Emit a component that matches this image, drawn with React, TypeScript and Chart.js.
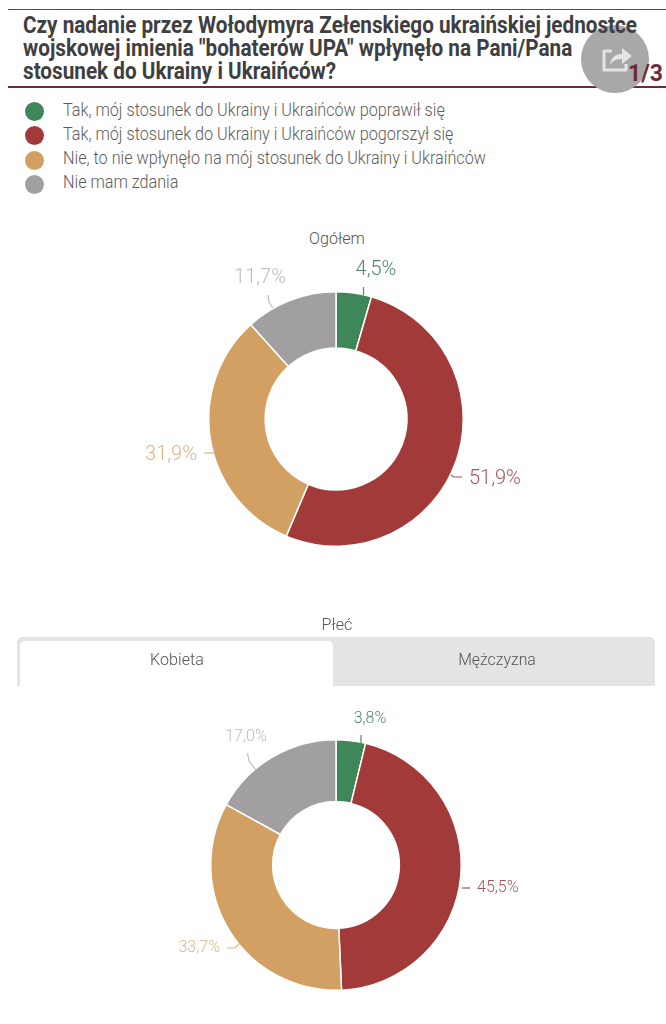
import React, { useEffect, useRef } from "react";
import { Chart, registerables } from "chart.js";

Chart.register(...registerables);

const titleLines = [
  "Czy nadanie przez Wołodymyra Zełenskiego ukraińskiej jednostce",
  'wojskowej imienia "bohaterów UPA" wpłynęło na Pani/Pana',
  "stosunek do Ukrainy i Ukraińców?",
];
const categories = [
  "Tak, mój stosunek do Ukrainy i Ukraińców poprawił się",
  "Tak, mój stosunek do Ukrainy i Ukraińców pogorszył się",
  "Nie, to nie wpłynęło na mój stosunek do Ukrainy i Ukraińców",
  "Nie mam zdania",
];
const overallValues = [4.5, 51.9, 31.9, 11.7];
const womenValues = [3.8, 45.5, 33.7, 17.0];
const tabNames = ["Kobieta", "Mężczyzna"];

const sliceColors = ["#3f8659", "#a33a3a", "#d2a063", "#a19f9f"];
const labelColors = ["#4a8a65", "#a2555c", "#d8b784", "#bdbcbc"];

const LIGHT = "Roboto, sans-serif";

type Callout = { tx: number; ty: number; align: CanvasTextAlign; line: number[][] };

const labelPlugin = {
  id: "callouts",
  afterDraw(chart: any, _a: any, opts: any) {
    const { ctx } = chart;
    const values = chart.data.datasets[0].data as number[];
    const off: number[] = opts.offset;
    ctx.save();
    ctx.textBaseline = "middle";
    opts.callouts.forEach((c: Callout, i: number) => {
      ctx.strokeStyle = labelColors[i];
      ctx.lineWidth = 1.2;
      ctx.beginPath();
      c.line.forEach((p, j) => {
        const x = p[0] - off[0];
        const y = p[1] - off[1];
        if (j === 0) ctx.moveTo(x, y);
        else ctx.lineTo(x, y);
      });
      ctx.stroke();
      const text = values[i].toFixed(1).replace(".", ",") + "%";
      ctx.fillStyle = labelColors[i];
      ctx.font = opts.font;
      ctx.textAlign = c.align;
      ctx.fillText(text, c.tx - off[0], c.ty - off[1]);
    });
    ctx.restore();
  },
};

function Donut(props: {
  values: number[];
  top: number;
  height: number;
  padY: number;
  cutout: string;
  font: string;
  callouts: Callout[];
}) {
  const ref = useRef<HTMLCanvasElement>(null);
  useEffect(() => {
    const chart = new Chart(ref.current!, {
      type: "doughnut",
      data: {
        labels: categories,
        datasets: [
          {
            data: props.values,
            backgroundColor: sliceColors,
            borderColor: "#ffffff",
            borderWidth: 1.5,
          },
        ],
      },
      options: {
        responsive: false,
        animation: false,
        cutout: props.cutout,
        layout: { padding: { left: 6, right: 0, top: props.padY, bottom: props.padY } },
        plugins: {
          legend: { display: false },
          tooltip: { enabled: false },
          callouts: { callouts: props.callouts, font: props.font, offset: [0, props.top] },
        } as any,
      },
      plugins: [labelPlugin],
    });
    return () => chart.destroy();
  }, []);
  return (
    <canvas
      ref={ref}
      width={666}
      height={props.height}
      style={{ position: "absolute", left: 0, top: props.top, width: 666, height: props.height }}
    />
  );
}

const overallCallouts: Callout[] = [
  { tx: 376, ty: 269.5, align: "center", line: [[363.5, 287], [363.5, 295]] },
  { tx: 469, ty: 478.5, align: "left", line: [[451, 475], [454, 477], [462, 477]] },
  { tx: 197, ty: 454.5, align: "right", line: [[204, 453], [214, 453]] },
  { tx: 260, ty: 277.5, align: "center", line: [[268, 295], [269, 302], [273, 308]] },
];
const womenCallouts: Callout[] = [
  { tx: 370, ty: 718.5, align: "center", line: [[361, 735], [361, 743]] },
  { tx: 477, ty: 887.5, align: "left", line: [[462, 888], [470, 888]] },
  { tx: 220, ty: 947.5, align: "right", line: [[227, 948], [235, 948], [240, 943]] },
  { tx: 246, ty: 736.5, align: "center", line: [[247.5, 753], [249, 761], [256, 770]] },
];

const abs = (s: React.CSSProperties): React.CSSProperties => ({ position: "absolute", whiteSpace: "nowrap", ...s });
const centered = (left: number, width: number, top: number, sx: number) =>
  abs({ left, width, top, textAlign: "center", fontSize: 17, lineHeight: "22px", transform: `scaleX(${sx})` });

export default function App() {
  return (
    <div style={abs({ left: 0, top: 0, width: 666, height: 1024, overflow: "hidden", background: "#fff", color: "#555", fontFamily: LIGHT, fontWeight: 300 })}>
      <div style={abs({ left: 8, right: 0, top: 9, height: 1, background: "#7a3a48" })} />
      <div style={abs({ left: 8, right: 0, top: 86, height: 1.5, background: "#6d2a3a" })} />
      <div style={abs({ left: 581, top: 25, width: 68, height: 68, borderRadius: "50%", background: "#a8a8a8" })} />
      {titleLines.map((t, i) => (
        <div key={i} style={abs({ left: 23, top: 13.5 + i * 23.2, fontWeight: 700, fontSize: 23, lineHeight: "24px", color: "#3f3f42", transform: "scaleX(0.9)", transformOrigin: "left center" })}>{t}</div>
      ))}
      {categories.map((c, i) => (
        <React.Fragment key={c}>
          <div style={abs({ left: 25, top: 102 + i * 24.3, width: 19, height: 19, borderRadius: "50%", background: sliceColors[i] })} />
          <div style={abs({ left: 63, top: 97.5 + i * 24.3, fontSize: 17.5, lineHeight: "24px", color: "#5c5c5c", transform: "scaleX(0.925)", transformOrigin: "left center" })}>{c}</div>
        </React.Fragment>
      ))}
      <div style={centered(0, 674, 227, 0.95)}>Ogółem</div>
      <Donut values={overallValues} top={219} height={400} padY={72} cutout="55.7%" font={`300 20px ${LIGHT}`} callouts={overallCallouts} />
      <div style={centered(0, 674, 613, 0.95)}>Płeć</div>
      <div style={abs({ left: 17, top: 637, width: 638, height: 49, background: "#e4e4e4", borderRadius: "5px 5px 0 0" })} />
      <div style={abs({ left: 20, top: 641, width: 313, height: 45, background: "#fff", borderRadius: "5px 5px 0 0" })} />
      <div style={centered(20, 314, 648, 0.95)}>{tabNames[0]}</div>
      <div style={centered(335, 324, 648, 0.93)}>{tabNames[1]}</div>
      <Donut values={womenValues} top={686} height={358} padY={53} cutout="50.6%" font={`300 16px ${LIGHT}`} callouts={womenCallouts} />
      <svg style={{ position: "absolute", left: 600, top: 45 }} width="34" height="30" viewBox="0 0 34 30">
        <path d="M12 6 H4 V25 H26 V19" fill="none" stroke="#e4e4e4" strokeWidth="3" strokeLinejoin="round" />
        <path d="M10 20 C11 12 16 9 22 9 V3 L32 11 L22 19 V14 C17 14 13 15 10 20 Z" fill="#e4e4e4" />
      </svg>
      <div style={abs({ left: 628, top: 61, fontWeight: 700, fontSize: 23, lineHeight: "26px", color: "#6d2a3a" })}>1/3</div>
    </div>
  );
}
